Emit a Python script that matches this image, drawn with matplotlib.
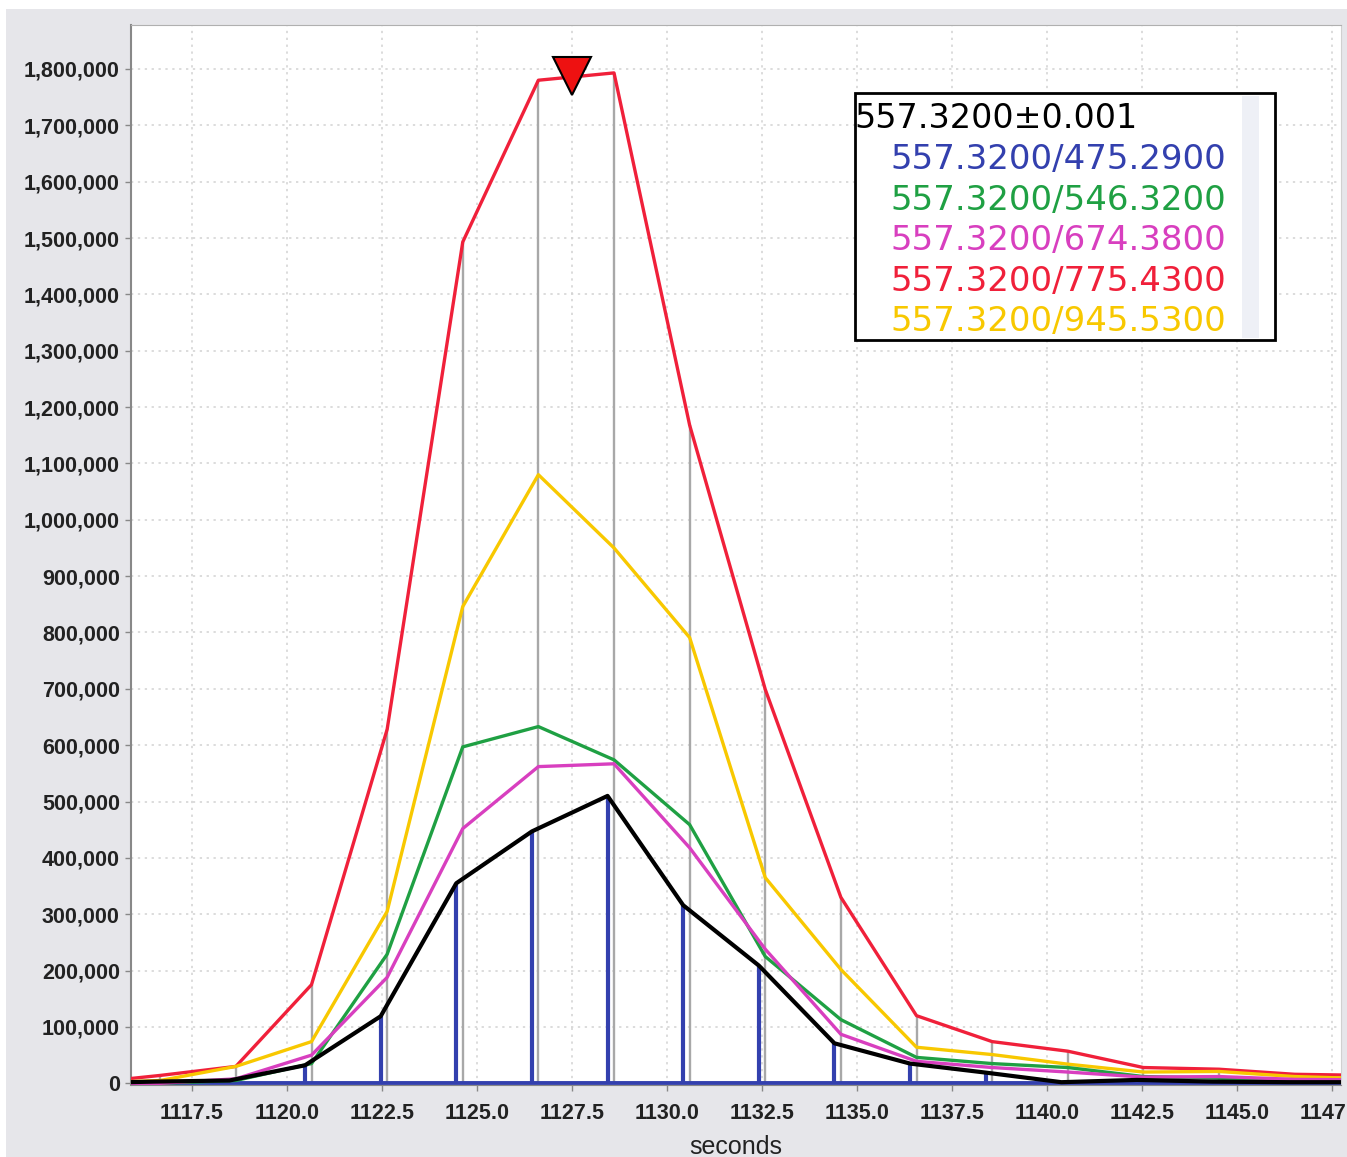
import matplotlib
matplotlib.use('Agg')
import matplotlib.pyplot as plt
import matplotlib.patches as patches
from matplotlib.ticker import StrMethodFormatter

# scan times (s) for the fragment traces
t_main = [1114.68, 1116.67, 1118.66, 1120.65, 1122.64, 1124.63, 1126.62, 1128.61, 1130.60,
          1132.59, 1134.58, 1136.57, 1138.56, 1140.55, 1142.54, 1144.53, 1146.52, 1148.51]
# scan times for the 475.29 trace (blue sticks / black line)
t_blue = [1114.51, 1116.50, 1118.49, 1120.48, 1122.47, 1124.46, 1126.45, 1128.44, 1130.43,
          1132.42, 1134.41, 1136.40, 1138.39, 1140.38, 1142.37, 1144.36, 1146.35, 1148.34]

red = [0, 14000, 30000, 175000, 628000, 1493000, 1780000, 1793000, 1168000,
       699000, 330000, 120000, 74000, 57000, 28000, 25000, 16000, 14000]
yellow = [0, 5000, 30000, 74000, 305000, 846000, 1080000, 950000, 791000,
          365000, 202000, 64000, 51000, 34000, 20000, 21000, 12000, 8000]
green = [0, 0, 5000, 35000, 229000, 597000, 633000, 574000, 459000,
         225000, 113000, 46000, 35000, 28000, 12000, 9000, 5000, 4000]
magenta = [0, 0, 8000, 50000, 188000, 452000, 562000, 567000, 418000,
           238000, 87000, 39000, 28000, 20000, 11000, 12000, 7000, 6000]
black = [0, 3000, 5000, 32000, 119000, 355000, 447000, 510000, 316000,
         209000, 71000, 35000, 19000, 2000, 6000, 3000, 2000, 2000]

header = '557.3200\u00b10.001'
legend_labels = ['557.3200/475.2900', '557.3200/546.3200', '557.3200/674.3800',
                 '557.3200/775.4300', '557.3200/945.5300']

peak_x, peak_y = 1127.5, 1787000

C_BLUE = '#3340ae'
C_GREEN = '#1fa043'
C_MAGENTA = '#d83fbf'
C_RED = '#f0203a'
C_YELLOW = '#f8c800'
legend_colors = [C_BLUE, C_GREEN, C_MAGENTA, C_RED, C_YELLOW]

fig = plt.figure(figsize=(13.47, 11.57), dpi=100, facecolor='#e6e6ea')
# thin white border at top/left like the screenshot
fig.add_artist(patches.Rectangle((0, 1 - 9 / 1157), 1, 9 / 1157, transform=fig.transFigure,
                                 facecolor='white', edgecolor='none'))
fig.add_artist(patches.Rectangle((0, 0), 6 / 1347, 1, transform=fig.transFigure,
                                 facecolor='white', edgecolor='none'))

ax = fig.add_axes([131 / 1347, 1 - 1085 / 1157, 1210 / 1347, 1060 / 1157])
ax.set_facecolor('white')

# gray sticks under the red trace
ax.vlines(t_main, 0, red, colors='#a8a8a8', linewidth=1.7, zorder=1)
# blue sticks
ax.vlines(t_blue, 0, black, colors=C_BLUE, linewidth=3.0, zorder=2)
ax.axhline(0, color=C_BLUE, linewidth=2.8, zorder=2)

ax.plot(t_main, red, color=C_RED, linewidth=2.4, zorder=3)
ax.plot(t_main, yellow, color=C_YELLOW, linewidth=2.4, zorder=3)
ax.plot(t_main, green, color=C_GREEN, linewidth=2.4, zorder=4)
ax.plot(t_main, magenta, color=C_MAGENTA, linewidth=2.4, zorder=4)
ax.plot(t_blue, black, color='black', linewidth=3.0, zorder=5)

ax.plot([peak_x], [peak_y], marker='v', markersize=27, markerfacecolor='#ee1111',
        markeredgecolor='black', markeredgewidth=1.5, zorder=6, clip_on=False)

ax.set_xlim(1115.9, 1147.74)
ax.set_ylim(-3000, 1878000)

ax.set_xticks([1117.5 + 2.5 * i for i in range(13)])
ax.xaxis.set_major_formatter(StrMethodFormatter('{x:.1f}'))
ax.set_yticks([100000 * i for i in range(19)])
ax.yaxis.set_major_formatter(StrMethodFormatter('{x:,.0f}'))

ax.grid(True, linestyle=(0, (1.5, 3)), color='#d2d2d2', linewidth=1.1, zorder=0)
ax.set_axisbelow(True)

for lab in ax.get_yticklabels() + ax.get_xticklabels():
    lab.set_fontfamily('Liberation Sans')
    lab.set_fontweight('bold')
    lab.set_fontsize(15.5)
    lab.set_color('#222222')

ax.tick_params(axis='y', direction='out', length=4, width=1, color='#888888', pad=4)
ax.tick_params(axis='x', direction='out', length=4, width=1, color='#888888', pad=9)
ax.set_xlabel('seconds', fontsize=18, family='Liberation Sans', color='#222222', labelpad=8)

ax.spines['left'].set_color('#888888')
ax.spines['left'].set_linewidth(1.5)
ax.spines['top'].set_color('#b0b0b0')
ax.spines['right'].set_color('#d0d0d0')
ax.spines['bottom'].set_color('#888888')

# legend box
box = patches.Rectangle((0.598, 0.7025), 0.3475, 0.2333, transform=ax.transAxes,
                        facecolor='white', edgecolor='black', linewidth=2, zorder=7)
ax.add_patch(box)
ax.add_patch(patches.Rectangle((0.918, 0.705), 0.014, 0.228, transform=ax.transAxes,
                               facecolor='#eef0f6', edgecolor='none', zorder=7))
ax.text(0.598, 0.9122, header, transform=ax.transAxes, fontsize=24, family='DejaVu Sans',
        color='black', ha='left', va='center', zorder=8)
ys = [0.8735, 0.8347, 0.7970, 0.7583, 0.7205]
for lbl, col, yy in zip(legend_labels, legend_colors, ys):
    ax.text(0.6273, yy, lbl, transform=ax.transAxes, fontsize=24.5, family='DejaVu Sans',
            color=col, ha='left', va='center', zorder=8)

plt.savefig('out.png', dpi=100, facecolor=fig.get_facecolor())
